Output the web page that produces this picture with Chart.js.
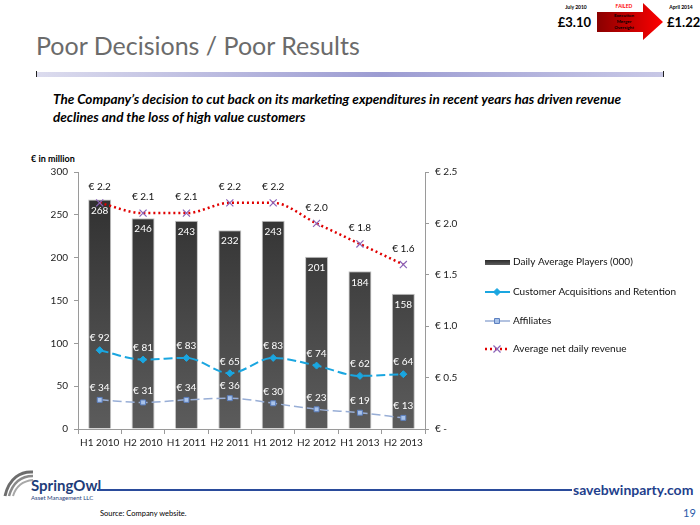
<!DOCTYPE html>
<html>
<head>
<meta charset="utf-8">
<script src="https://cdn.jsdelivr.net/npm/chart.js"></script>
<style>
  body{margin:0;width:700px;height:525px;position:relative;background:#fff;overflow:hidden;font-family:Lato,"Open Sans",sans-serif}
  .t{position:absolute;white-space:nowrap;line-height:1}
  #chart{position:absolute;left:0;top:150px}
</style>
</head>
<body>

<!-- top right box -->
<div class="t" style="left:556px;top:5px;width:40px;text-align:center;font-size:5px;font-weight:bold">July 2010</div>
<div class="t" style="left:540px;top:16px;width:51px;text-align:right;font-size:13px;font-weight:bold">£3.10</div>
<svg style="position:absolute;left:595px;top:2px" width="72" height="40">
  <defs>
    <linearGradient id="arr" x1="0" x2="1" y1="0" y2="0">
      <stop offset="0" stop-color="#8a0000"/>
      <stop offset="1" stop-color="#ff0000"/>
    </linearGradient>
  </defs>
  <polygon points="2,10 48,10 48,1 68,20 48,38 48,30 2,30" fill="url(#arr)"/>
</svg>
<div class="t" style="left:606px;top:4px;width:36px;text-align:center;font-size:5px;font-weight:bold;color:#ff0000">FAILED</div>
<div class="t" style="left:606px;top:13px;width:36px;text-align:center;font-size:4.5px;font-weight:bold;line-height:6px">Execution<br>Merger<br>Oversight</div>
<div class="t" style="left:662px;top:5px;width:38px;text-align:center;font-size:5px;font-weight:bold">April 2014</div>
<div class="t" style="left:667px;top:16px;font-size:13px;font-weight:bold">£1.22</div>

<!-- title -->
<div class="t" style="left:36px;top:33px;font-size:25px;color:#6b6b6b">Poor Decisions / Poor Results</div>
<div style="position:absolute;left:37px;top:72px;width:626px;height:5px;background:linear-gradient(to right,#dcdcee,#9c9cd2 55%,#c8c8e6)"></div>
<div style="position:absolute;left:36px;top:71px;width:1px;height:6px;background:#222"></div>
<div style="position:absolute;left:663px;top:71px;width:1px;height:6px;background:#222"></div>

<div class="t" style="left:53px;top:90px;font-size:13.5px;font-weight:bold;font-style:italic;line-height:18px">The Company’s decision to cut back on its marketing expenditures in recent years has driven revenue<br>declines and the loss of high value customers</div>

<div class="t" style="left:31px;top:154px;font-size:9px;font-weight:bold">€ in million</div>

<canvas id="chart" width="700" height="310"></canvas>

<!-- footer -->
<svg style="position:absolute;left:3px;top:468px" width="30" height="30">
  <path d="M2,28 C6,10 18,3 30,4" stroke="#6d6d6d" stroke-width="3" fill="none"/>
  <path d="M6,28 C10,14 19,8 30,8" stroke="#8a8a8a" stroke-width="2.5" fill="none"/>
  <path d="M10,28 C13,18 20,13 30,12" stroke="#a8a8a8" stroke-width="2" fill="none"/>
</svg>
<div class="t" style="left:31px;top:478px;font-size:15px;font-weight:bold;color:#1f3d7a">SpringOwl</div>
<div class="t" style="left:31px;top:495px;font-size:6px;color:#1f3d7a">Asset Management LLC</div>
<div style="position:absolute;left:97px;top:489px;width:475px;height:2px;background:#2a4b9b"></div>
<div class="t" style="left:100px;top:510px;font-size:7.5px">Source: Company website.</div>
<div class="t" style="left:573px;top:483px;font-size:14px;font-weight:bold;color:#1f3f8c">savebwinparty.com</div>
<div class="t" style="left:683px;top:507px;font-size:11px;color:#2a5aa8">19</div>

<script>
// chart data
var periods     = ['H1 2010','H2 2010','H1 2011','H2 2011','H1 2012','H2 2012','H1 2013','H2 2013'];
var players     = [268, 246, 243, 232, 243, 201, 184, 158];   // Daily Average Players (000)
var acquisition = [92, 81, 83, 65, 83, 74, 62, 64];           // € million
var affiliates  = [34, 31, 34, 36, 30, 23, 19, 13];           // € million
var revenue     = [2.2, 2.1, 2.1, 2.2, 2.2, 2.0, 1.8, 1.6];   // € million per day
var leftTicks   = [0, 50, 100, 150, 200, 250, 300];
var rightTicks  = [0, 0.5, 1.0, 1.5, 2.0, 2.5];

var FONT = 'Lato, "Open Sans", sans-serif';

function barFill(c){
  var a = c.chart.chartArea;
  if(!a) return '#444';
  var g = c.chart.ctx.createLinearGradient(0, a.top, 0, a.bottom);
  g.addColorStop(0, '#2c2c2c');
  g.addColorStop(1, '#5c5c5c');
  return g;
}

// labels above / inside the marks
var valueLabels = {
  id: 'valueLabels',
  afterDatasetsDraw: function(chart){
    var ctx = chart.ctx;
    ctx.save();
    ctx.font = '10px ' + FONT;
    ctx.textAlign = 'center';
    ctx.textBaseline = 'middle';
    chart.data.datasets.forEach(function(ds, i){
      var meta = chart.getDatasetMeta(i);
      meta.data.forEach(function(el, j){
        var v = ds.data[j], txt, y;
        if(ds.lbl === 'bar'){ txt = String(v); y = el.y + 11; ctx.fillStyle = '#fff'; }
        else if(ds.lbl === 'rev'){ txt = '€ ' + v.toFixed(1); y = el.y - 16; ctx.fillStyle = '#111'; }
        else { txt = '€ ' + v; y = el.y - 12; ctx.fillStyle = '#fff'; }
        ctx.fillText(txt, el.x, y);
      });
    });
    ctx.restore();
  }
};

// legend on the right
var sideLegend = {
  id: 'sideLegend',
  afterDraw: function(chart){
    var ctx = chart.ctx;
    var rows = [112, 142, 171, 199];
    ctx.save();
    ctx.font = '10px ' + FONT;
    ctx.textBaseline = 'middle';
    chart.data.datasets.forEach(function(ds, i){
      var y = rows[i], x0 = 485, x1 = 510, xm = 497;
      if(ds.lbl === 'bar'){
        var g = ctx.createLinearGradient(0, y - 2, 0, y + 3);
        g.addColorStop(0, '#2c2c2c'); g.addColorStop(1, '#5c5c5c');
        ctx.fillStyle = g;
        ctx.fillRect(x0, y - 2, x1 - x0, 5);
      } else {
        ctx.strokeStyle = ds.borderColor;
        ctx.lineWidth = ds.borderWidth;
        ctx.setLineDash(ds.lbl === 'rev' ? ds.borderDash : []);
        ctx.beginPath(); ctx.moveTo(x0, y); ctx.lineTo(x1, y); ctx.stroke();
        ctx.setLineDash([]);
        ctx.fillStyle = ds.pointBackgroundColor;
        ctx.strokeStyle = ds.pointBorderColor;
        ctx.lineWidth = ds.pointBorderWidth || 1;
        Chart.helpers.drawPoint(ctx, {
          pointStyle: ds.pointStyle, radius: ds.pointRadius, borderWidth: ds.pointBorderWidth || 1
        }, xm, y);
      }
      ctx.fillStyle = '#111';
      ctx.fillText(ds.label, 513, y);
    });
    ctx.restore();
  }
};

new Chart(document.getElementById('chart'), {
  type: 'bar',
  data: {
    labels: periods,
    datasets: [
      {
        lbl: 'bar', label: 'Daily Average Players (000)', data: players, yAxisID: 'y', order: 4,
        backgroundColor: barFill, borderColor: 'rgba(170,170,170,0.7)', borderWidth: 1,
        barPercentage: 0.53, categoryPercentage: 1
      },
      {
        lbl: 'line', type: 'line', label: 'Customer Acquisitions and Retention', data: acquisition, yAxisID: 'y', order: 2,
        borderColor: '#1aa6e0', borderWidth: 2, borderDash: [9, 4], cubicInterpolationMode: 'monotone',
        pointStyle: 'rectRot', pointRadius: 3.5, pointBackgroundColor: '#1aa6e0', pointBorderColor: '#1aa6e0', pointBorderWidth: 1
      },
      {
        lbl: 'line', type: 'line', label: 'Affiliates', data: affiliates, yAxisID: 'y', order: 3,
        borderColor: '#98aed6', borderWidth: 1.5, borderDash: [9, 4], cubicInterpolationMode: 'monotone',
        pointStyle: 'rect', pointRadius: 3.5, pointBackgroundColor: '#a9c3ea', pointBorderColor: '#5b7fbf', pointBorderWidth: 1
      },
      {
        lbl: 'rev', type: 'line', label: 'Average net daily revenue', data: revenue, yAxisID: 'y1', order: 1,
        borderColor: '#e00000', borderWidth: 2.5, borderDash: [2, 3], cubicInterpolationMode: 'monotone',
        pointStyle: 'crossRot', pointRadius: 5, pointBackgroundColor: '#8a63b8', pointBorderColor: '#8a63b8', pointBorderWidth: 1.2
      }
    ]
  },
  options: {
    responsive: false,
    animation: false,
    layout: { padding: { left: 0, right: 235, top: 22, bottom: 0 } },
    plugins: { legend: { display: false }, tooltip: { enabled: false } },
    scales: {
      x: {
        grid: { offset: true, drawOnChartArea: false, drawTicks: true, tickLength: 5, color: '#9a9a9a' },
        border: { color: '#9a9a9a' },
        ticks: { color: '#222', font: { family: FONT, size: 10 }, padding: 3, maxRotation: 0 },
        afterFit: function(s){ s.height = 31; }
      },
      y: {
        position: 'left', min: 0, max: 300,
        afterBuildTicks: function(s){ s.ticks = leftTicks.map(function(v){ return { value: v }; }); },
        grid: { drawOnChartArea: false, drawTicks: true, tickLength: 4, color: '#9a9a9a' },
        border: { color: '#9a9a9a' },
        ticks: { color: '#222', font: { family: FONT, size: 10 }, padding: 6 },
        afterFit: function(s){ s.width = 78; }
      },
      y1: {
        position: 'right', min: 0, max: 2.5,
        afterBuildTicks: function(s){ s.ticks = rightTicks.map(function(v){ return { value: v }; }); },
        grid: { drawOnChartArea: false, drawTicks: true, tickLength: 4, color: '#9a9a9a' },
        border: { color: '#9a9a9a' },
        ticks: {
          color: '#222', font: { family: FONT, size: 10 }, padding: 6,
          callback: function(v){ return v === 0 ? '€ -' : '€ ' + v.toFixed(1); }
        },
        afterFit: function(s){ s.width = 40; }
      }
    }
  },
  plugins: [valueLabels, sideLegend]
});
</script>
</body>
</html>
